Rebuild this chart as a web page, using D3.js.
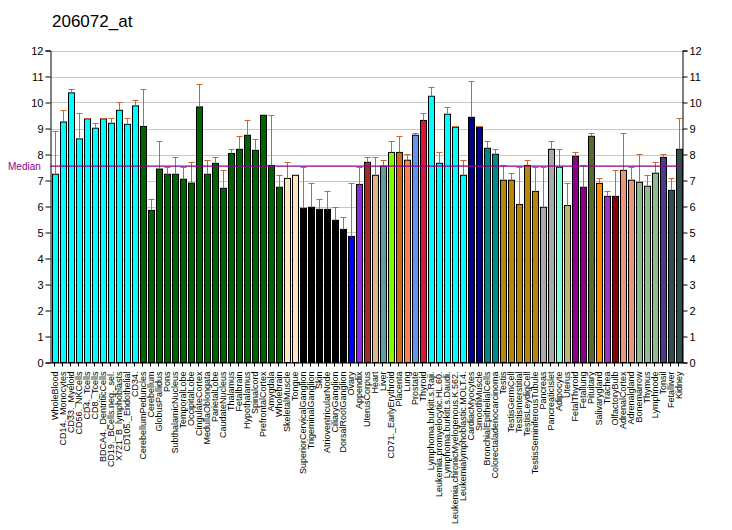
<!DOCTYPE html>
<html><head><meta charset="utf-8">
<script src="https://cdn.jsdelivr.net/npm/d3@7"></script>
<style>body{margin:0;background:#fff;} text{font-family:"Liberation Sans",Arial,sans-serif;}</style>
</head><body><svg id="c" width="732" height="530"></svg>
<script>
const title = "206072_at";
const categories = ["WholeBlood","CD14._Monocytes","CD33._Myeloid","CD56._NKCells","CD4._Tcells","CD8._Tcells","BDCA4._DentriticCells","CD19._BCells.neg._sel.","X721_B_lymphoblasts","CD105._Endothelial","CD34.","CerebellumPeduncles","Cerebellum","GlobusPallidus","Pons","SubthalamicNucleus","TemporalLobe","OccipitalLobe","CingulateCortex","MedullaOblongata","ParietalLobe","CaudateNucleus","Thalamus","Fetalbrain","Hypothalamus","Spinalcord","PrefrontalCortex","Amygdala","Wholebrain","SkeletalMuscle","Tongue","SuperiorCervicalGanglion","TrigeminalGanglion","Skin","AtrioventricularNode","CiliaryGanglion","DorsalRootGanglion","Ovary","Appendix","UterusCorpus","Heart","Liver","CD71._EarlyErythroid","Placenta","Lung","Prostate","Thyroid","Lymphoma.burkitt.s.Raji.","Leukemia.promyelocytic.HL.60.","Lymphoma.burkitt.s.Daudi.","Leukemia.chronicMyelogenous.K.562.","Leukemialymphoblastic.MOLT.4.","CardiacMyocytes","SmoothMuscle","BronchialEpithelialCells","Colorectaladenocarcinoma","Testis","TestisGermCell","TestisInterstitial","TestisLeydigCell","TestisSeminiferousTubule","Pancreas","PancreaticIslet","Adipocyte","Uterus","FetalThyroid","Fetallung","Pituitary","Salivarygland","Trachea","OlfactoryBulb","AdrenalCortex","Adrenalgland","Bonemarrow","Thymus","Lymphnode","Tonsil","Fetalliver","Kidney"];
const values = [7.24,9.25,10.37,8.60,9.37,9.01,9.37,9.20,9.70,9.16,9.87,9.08,5.85,7.44,7.24,7.24,7.05,6.90,9.83,7.24,7.66,6.70,8.04,8.20,8.74,8.16,9.51,7.58,6.74,7.08,7.20,5.93,5.97,5.89,5.89,5.47,5.12,4.85,6.85,7.70,7.20,7.55,8.08,8.08,7.78,8.74,9.31,10.24,7.66,9.55,9.05,7.20,9.43,9.05,8.24,8.01,7.01,7.01,6.08,7.58,6.58,5.97,8.20,7.51,6.04,7.93,6.74,8.70,6.89,6.39,6.39,7.39,7.01,6.93,6.78,7.28,7.89,6.62,8.20];
const errTops = [8.90,9.70,10.51,9.60,9.39,9.20,9.39,9.39,10.00,9.39,10.08,10.51,6.28,8.52,7.52,7.89,7.52,7.70,10.71,7.78,7.89,7.39,8.20,8.70,9.31,8.58,9.51,9.51,7.20,7.70,7.20,7.51,6.89,6.28,6.58,5.97,5.58,6.89,7.51,7.89,7.89,7.78,8.51,8.70,8.01,8.82,9.58,10.58,8.08,9.81,9.08,7.78,10.81,9.08,8.51,8.20,7.58,7.28,7.51,7.78,7.51,7.51,8.51,8.20,6.89,8.08,7.58,8.82,7.08,6.58,7.39,8.82,7.51,8.01,7.20,7.70,8.01,7.08,9.39];
const colors = ["#00FFFF","#00FFFF","#00FFFF","#00FFFF","#00FFFF","#00FFFF","#00FFFF","#00FFFF","#00FFFF","#00FFFF","#00FFFF",
"#006400","#006400","#006400","#006400","#006400","#006400","#006400","#006400","#006400","#006400","#006400","#006400","#006400","#006400","#006400","#006400","#006400","#006400",
"#FFE4C4","#FFE4C4","#000000","#000000","#000000","#000000","#000000","#000000","#0000FF","#8A2BE2","#A52A2A","#DEB887","#5F9EA0","#7FFF00","#D2691E","#FF7F50","#6495ED","#DC143C",
"#00FFFF","#00FFFF","#00FFFF","#00FFFF","#00FFFF","#00008B","#00008B","#008B8B","#008B8B",
"#B8860B","#B8860B","#B8860B","#B8860B","#B8860B","#A9A9A9","#A9A9A9","#7FFFD4","#BDB76B","#8B008B","#8B008B","#556B2F","#FF8C00","#9932CC","#8B0000","#E9967A","#E9967A","#8FBC8F","#8FBC8F","#8FBC8F","#483D8B","#2F4F4F","#2F4F4F"];
const median = 7.55;
const yTicks = [0,1,2,3,4,5,6,7,8,9,10,11,12];

const svg = d3.select("#c");
const x0 = 50.5, x1 = 682.5, yTop = 50.5, yBot = 362.5;
const x = d3.scaleBand().domain(categories).range([x0, x1]).paddingInner(0.25).paddingOuter(0.125);
const y = d3.scaleLinear().domain([0, 12]).range([yBot, yTop]);

svg.append("text").attr("x", 52).attr("y", 27).attr("font-size", 17).attr("fill", "#000").text(title);

// grid
svg.append("g").selectAll("line").data(yTicks.filter(d => d > 0)).join("line")
  .attr("x1", x0).attr("x2", x1).attr("y1", d => Math.round(y(d)) + 0.5).attr("y2", d => Math.round(y(d)) + 0.5)
  .attr("stroke", "#c8c8c8").attr("stroke-width", 1);

// bars
svg.append("g").selectAll("rect").data(categories).join("rect")
  .attr("x", d => Math.round(x(d)) + 0.5).attr("width", Math.round(x.bandwidth()))
  .attr("y", (d, i) => y(values[i])).attr("height", (d, i) => yBot - y(values[i]))
  .attr("fill", (d, i) => colors[i]).attr("stroke", "#000").attr("stroke-width", 1);

// error bars
const eg = svg.append("g").attr("stroke", "#c8682c").attr("stroke-width", 1);
categories.forEach((c, i) => {
  if (errTops[i] - values[i] < 0.02) return;
  const cx = Math.round(x(c) + x.bandwidth() / 2) + 0.5;
  eg.append("line").attr("x1", cx).attr("x2", cx).attr("y1", y(values[i])).attr("y2", y(errTops[i]));
  eg.append("line").attr("x1", cx - 3).attr("x2", cx + 3).attr("y1", Math.round(y(errTops[i])) + 0.5).attr("y2", Math.round(y(errTops[i])) + 0.5);
});

// median line
svg.append("line").attr("x1", x0).attr("x2", x1).attr("y1", y(median)).attr("y2", y(median))
  .attr("stroke", "#8B008B").attr("stroke-width", 1.2);
svg.append("text").attr("x", 8).attr("y", y(median) + 3.5).attr("font-size", 10).attr("fill", "#8B008B").text("Median");

// axes
const la = d3.axisLeft(y).tickValues(yTicks).tickSize(5).tickPadding(2).tickFormat(d3.format("d"));
const gL = svg.append("g").attr("transform", `translate(${x0},0)`).call(la);
const ra = d3.axisRight(y).tickValues(yTicks).tickSize(5).tickPadding(2).tickFormat(d3.format("d"));
const gR = svg.append("g").attr("transform", `translate(${x1},0)`).call(ra);
[gL, gR].forEach(g => {
  g.select(".domain").attr("stroke", "#000");
  g.selectAll("text").attr("font-size", 11).attr("fill", "#000").style("font-family", '"Liberation Sans",Arial,sans-serif');
});

const ba = d3.axisBottom(x).tickSize(4).tickSizeOuter(0).tickPadding(4);
const gB = svg.append("g").attr("transform", `translate(0,${yBot})`).call(ba);
gB.select(".domain").attr("stroke", "#000");
gB.selectAll(".tick line").attr("stroke", "#000");
gB.selectAll("text").attr("font-size", 9).attr("fill", "#000")
  .style("font-family", '"Liberation Sans",Arial,sans-serif')
  .attr("text-anchor", "end").attr("transform", "rotate(-90)")
  .attr("x", -9).attr("y", 0).attr("dy", "0.35em");
</script></body></html>
